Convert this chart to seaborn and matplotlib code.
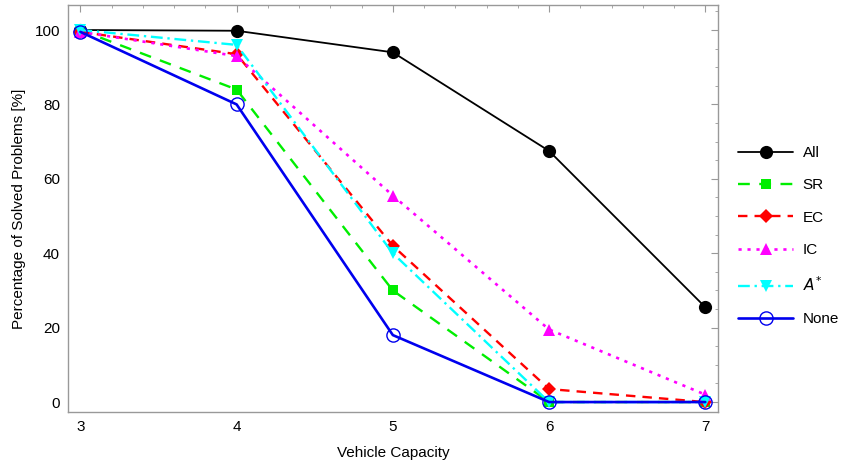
import seaborn as sns
import pandas as pd
import matplotlib.pyplot as plt
from matplotlib.ticker import MultipleLocator

capacity = [3, 4, 5, 6, 7]
all_vals = [100, 99.8, 94, 67.5, 25.5]
sr_vals = [100, 84, 30, 0, 0]
ec_vals = [99.5, 93.5, 42, 3.5, 0]
ic_vals = [99.5, 93, 55.5, 19.5, 2]
astar_vals = [100, 96, 40, 0, 0]
none_vals = [99.5, 80, 18, 0, 0]

series = ["All", "SR", "EC", "IC", "$A^{*}$", "None"]
values = [all_vals, sr_vals, ec_vals, ic_vals, astar_vals, none_vals]

df = pd.concat([
    pd.DataFrame({"Vehicle Capacity": capacity, "Solved": v, "Method": name})
    for name, v in zip(series, values)
])

# style for each method: color, linestyle, marker, marker size, filled, line width
styles = {
    "All": ("black", "-", "o", 9.5, True, 1.3),
    "SR": ("#00ee00", (0, (5, 4)), "s", 7, True, 1.7),
    "EC": ("red", (0, (4, 3)), "D", 7, True, 1.7),
    "IC": ("magenta", (0, (1.2, 2.2)), "^", 8, True, 1.9),
    "$A^{*}$": ("cyan", (0, (5, 2, 1, 2)), "v", 8, True, 1.7),
    "None": ("#0000ee", "-", "o", 9.5, False, 1.9),
}

sns.set_style("white", {"text.color": "black", "axes.labelcolor": "black",
                        "xtick.color": "black", "ytick.color": "black"})
plt.rcParams["font.family"] = ["Liberation Sans", "DejaVu Sans"]

fig = plt.figure(figsize=(8.44, 4.62), dpi=100)
ax = fig.add_axes([0.081, 0.108, 0.77, 0.881])

for name in series:
    color, ls, marker, ms, filled, lw = styles[name]
    sub = df[df["Method"] == name]
    sns.lineplot(data=sub, x="Vehicle Capacity", y="Solved", ax=ax,
                 color=color, linestyle=ls, marker=marker, markersize=ms,
                 markerfacecolor=color if filled else "none",
                 markeredgecolor=color, markeredgewidth=1.0 if not filled else 0,
                 linewidth=lw, label=name)

ax.set_xlim(2.923, 7.083)
ax.set_ylim(-2.7, 106.7)
ax.xaxis.set_major_locator(MultipleLocator(1))
ax.xaxis.set_minor_locator(MultipleLocator(0.2))
ax.yaxis.set_major_locator(MultipleLocator(20))
ax.yaxis.set_minor_locator(MultipleLocator(5))
ax.tick_params(which="both", direction="in", top=True, right=True,
               color="#999999", labelcolor="black", labelsize=11, pad=6)
ax.tick_params(which="major", length=5)
ax.tick_params(which="minor", length=2.5)
for s in ax.spines.values():
    s.set_color("#999999")
    s.set_linewidth(1.0)

ax.set_xlabel("Vehicle Capacity", fontsize=11, labelpad=8, color="black")
ax.set_ylabel("Percentage of Solved Problems [%]", fontsize=11, labelpad=6,
              color="black")

leg = ax.legend(loc="center left", bbox_to_anchor=(1.031, 0.432), frameon=False,
                fontsize=11, handlelength=3.6, labelspacing=1.2,
                handletextpad=0.6, borderpad=0, borderaxespad=0)
for t in leg.get_texts():
    t.set_color("black")

fig.savefig("out.png", dpi=100)
